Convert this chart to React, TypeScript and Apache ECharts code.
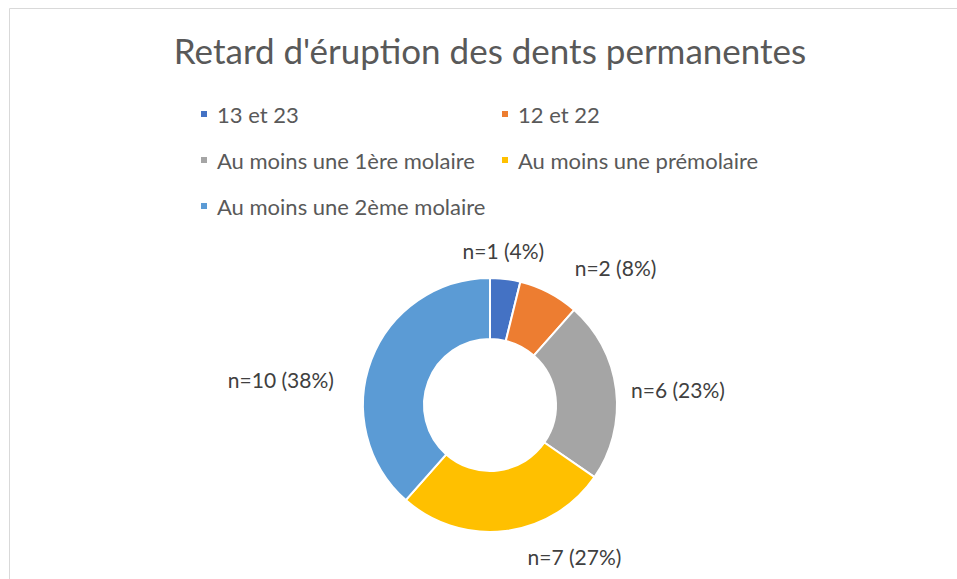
import React, { useEffect, useRef } from "react";
import * as echarts from "echarts";

const titleText = "Retard d'éruption des dents permanentes";
const categories = [
  "13 et 23",
  "12 et 22",
  "Au moins une 1ère molaire",
  "Au moins une prémolaire",
  "Au moins une 2ème molaire",
];
const values = [1, 2, 6, 7, 10];
const percents = ["4%", "8%", "23%", "27%", "38%"];
const colors = ["#4472C4", "#ED7D31", "#A5A5A5", "#FFC000", "#5B9BD5"];

// legend grid columns (Excel-like layout)
const legendCol1 = [categories[0], categories[2], categories[4]];
const legendCol2 = [categories[1], categories[3]];

// label nudges (layout only)
const labelNudges: [number, number][] = [
  [-49, -18],
  [16, -16],
  [0, 1],
  [16, 15],
  [-23, 23],
];

const FONT = "Lato, 'Noto Sans', sans-serif";

export default function App() {
  const ref = useRef<HTMLDivElement>(null);
  useEffect(() => {
    if (!ref.current) return;
    const chart = echarts.init(ref.current, undefined, { renderer: "svg" });
    const legendBase = {
      orient: "vertical" as const,
      icon: "rect",
      itemWidth: 8,
      itemHeight: 8,
      itemGap: 24,
      textStyle: {
        color: "#595959",
        fontSize: 22,
        fontFamily: FONT,
        lineHeight: 22,
        padding: [0, 0, 0, 4],
      },
      selectedMode: false,
    };
    chart.setOption({
      animation: false,
      backgroundColor: "#ffffff",
      color: colors,
      title: {
        text: titleText,
        left: 485,
        textAlign: "center",
        top: 27,
        textStyle: {
          color: "#595959",
          fontSize: 35,
          fontWeight: "normal",
          fontFamily: FONT,
        },
      },
      legend: [
        { ...legendBase, data: legendCol1, left: 194, top: 98 },
        { ...legendBase, data: legendCol2, left: 495, top: 98 },
      ],
      graphic: [
        {
          type: "rect",
          shape: { x: 9.5, y: 8.5, width: 1000, height: 700 },
          style: { fill: "none", stroke: "#d9d9d9", lineWidth: 1 },
          silent: true,
        },
      ],
      series: [
        {
          type: "pie",
          center: [490, 405],
          radius: [66, 127],
          startAngle: 90,
          clockwise: true,
          avoidLabelOverlap: false,
          itemStyle: { borderColor: "#ffffff", borderWidth: 2 },
          label: {
            show: true,
            position: "outside",
            color: "#404040",
            fontSize: 21,
            fontFamily: FONT,
            distanceToLabelLine: 5,
          },
          labelLine: { show: false, length: 10, length2: 0 },
          emphasis: { disabled: true },
          data: categories.map((name, i) => ({
            name,
            value: values[i],
            label: {
              formatter: `n=${values[i]} (${percents[i]})`,
              offset: labelNudges[i],
            },
          })),
        },
      ],
    });
    return () => chart.dispose();
  }, []);
  return (
    <div
      ref={ref}
      style={{ position: "fixed", left: 0, top: 0, width: 957, height: 579 }}
    />
  );
}
